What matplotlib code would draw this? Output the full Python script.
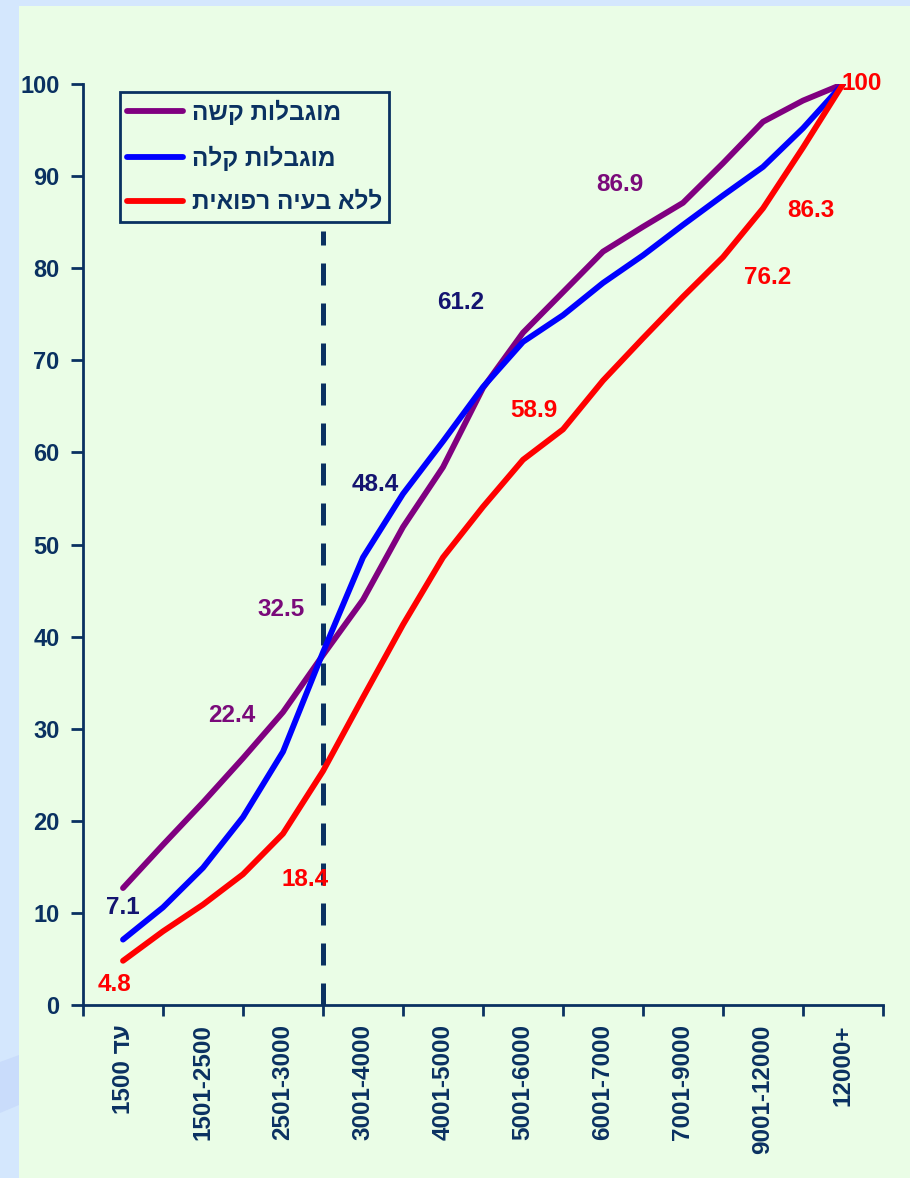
import numpy as np
import matplotlib
matplotlib.use("Agg")
import matplotlib.pyplot as plt
from matplotlib.patches import Rectangle, Polygon

plt.rcParams['font.family'] = ['Liberation Sans', 'DejaVu Sans']
plt.rcParams['font.weight'] = 'bold'

# income groups (tick labels are written in visual order, matplotlib has no bidi)
categories = ["1500 דע", "1501-2500", "2501-3000", "3001-4000", "4001-5000",
              "5001-6000", "6001-7000", "7001-9000", "9001-12000", "12000+"]

# cumulative share, read at every half category (0, 0.5, 1, ... 9)
steps = np.arange(0, 9.01, 0.5)
severe = [12.7, 17.4, 22.0, 26.8, 31.8, 38.0, 44.0, 51.9, 58.4, 67.0,
          73.0, 77.4, 81.8, 84.5, 87.1, 91.4, 95.9, 98.2, 100]
mild = [7.1, 10.6, 14.9, 20.4, 27.5, 38.3, 48.6, 55.5, 61.2, 67.1,
        72.0, 74.9, 78.4, 81.4, 84.7, 87.9, 91.0, 95.2, 100]
healthy = [4.8, 8.0, 10.9, 14.2, 18.6, 25.4, 33.4, 41.3, 48.6, 54.1,
           59.2, 62.5, 67.8, 72.4, 76.9, 81.2, 86.5, 93.1, 100]

# legend labels (visual order)
names = ["השק תולבגומ", "הלק תולבגומ", "תיאופר היעב אלל"]

# value labels: text, x, y, series
notes = [("7.1", 0.0, 10.6, "mild"), ("4.8", -0.1, 2.2, "healthy"),
         ("22.4", 1.36, 31.4, "severe"), ("32.5", 1.98, 42.9, "severe"),
         ("18.4", 2.28, 13.6, "healthy"), ("48.4", 3.15, 56.5, "mild"),
         ("61.2", 4.22, 76.3, "mild"), ("58.9", 5.13, 64.6, "healthy"),
         ("86.9", 6.21, 89.1, "severe"), ("76.2", 8.06, 79.0, "healthy"),
         ("86.3", 8.6, 86.3, "healthy"), ("100", 9.23, 100.1, "healthy")]

divider_x = 2.5
divider_top = 84

navy = "#0a3161"
green = "#eafde6"
line_colors = {"severe": "#800080", "mild": "#0000ff", "healthy": "#ff0000"}
note_colors = {"severe": "#7a0a7a", "mild": "#141470", "healthy": "#ff0000"}

fig = plt.figure(figsize=(9.1, 11.78), dpi=100)
fig.patch.set_facecolor("#d4e7fd")
fig.patches.append(Rectangle((19 / 910, 0), 1, 1 - 6 / 1178, transform=fig.transFigure,
                             facecolor=green, edgecolor="none", zorder=-2))
fig.patches.append(Polygon([(0, 1 - 1062 / 1178), (19 / 910, 1 - 1055 / 1178),
                            (19 / 910, 1 - 1105 / 1178), (0, 1 - 1113 / 1178)],
                           closed=True, transform=fig.transFigure,
                           facecolor="#c9dcfb", edgecolor="none", zorder=-1))

ax = fig.add_axes([83 / 910, 173 / 1178, 800 / 910, 921 / 1178])
ax.set_facecolor("none")

for key, vals, label in [("severe", severe, names[0]), ("mild", mild, names[1]),
                         ("healthy", healthy, names[2])]:
    ax.plot(steps, vals, color=line_colors[key], lw=4.2, label=label,
            solid_capstyle="round", solid_joinstyle="round", zorder=3)

ax.vlines(divider_x, 0, divider_top, color=navy, lw=3.6,
          linestyles=[(0, (4.4, 3.6))], zorder=2)

for txt, x, y, key in notes:
    ax.text(x, y, txt, color=note_colors[key], fontsize=17.5, fontweight="bold",
            ha="center", va="center", zorder=5)

ax.set_xlim(-0.5, 9.5)
ax.set_ylim(0, 100)
ax.set_xticks(np.arange(-0.5, 10, 1))
ax.set_xticklabels([])
ax.set_xticks(np.arange(len(categories)), minor=True)
ax.set_xticklabels(categories, minor=True, rotation=90, ha="center", va="top",
                   fontsize=17.5, fontweight="bold", color=navy)
ax.tick_params(axis="x", which="minor", length=0, pad=14)
ax.tick_params(axis="x", which="major", length=8, width=2, color=navy, direction="out")
ax.set_yticks(np.arange(0, 101, 10))
ax.tick_params(axis="y", length=9, width=2, color=navy, labelsize=17,
               labelcolor=navy, pad=8)
for lab in ax.get_yticklabels():
    lab.set_fontweight("bold")

for side in ["top", "right"]:
    ax.spines[side].set_visible(False)
for side in ["left", "bottom"]:
    ax.spines[side].set_color(navy)
    ax.spines[side].set_linewidth(2)

leg = ax.legend(loc="upper left", bbox_to_anchor=(0.046, 0.991), borderaxespad=0,
                fancybox=False, facecolor=green, framealpha=1, edgecolor=navy,
                handlelength=2.3, handletextpad=0.35, labelspacing=0.85,
                borderpad=0.3, prop={"size": 17.5, "weight": "bold"})
leg.get_frame().set_linewidth(2)
for t in leg.get_texts():
    t.set_color(navy)

fig.savefig("out.png", dpi=100, facecolor=fig.get_facecolor())
